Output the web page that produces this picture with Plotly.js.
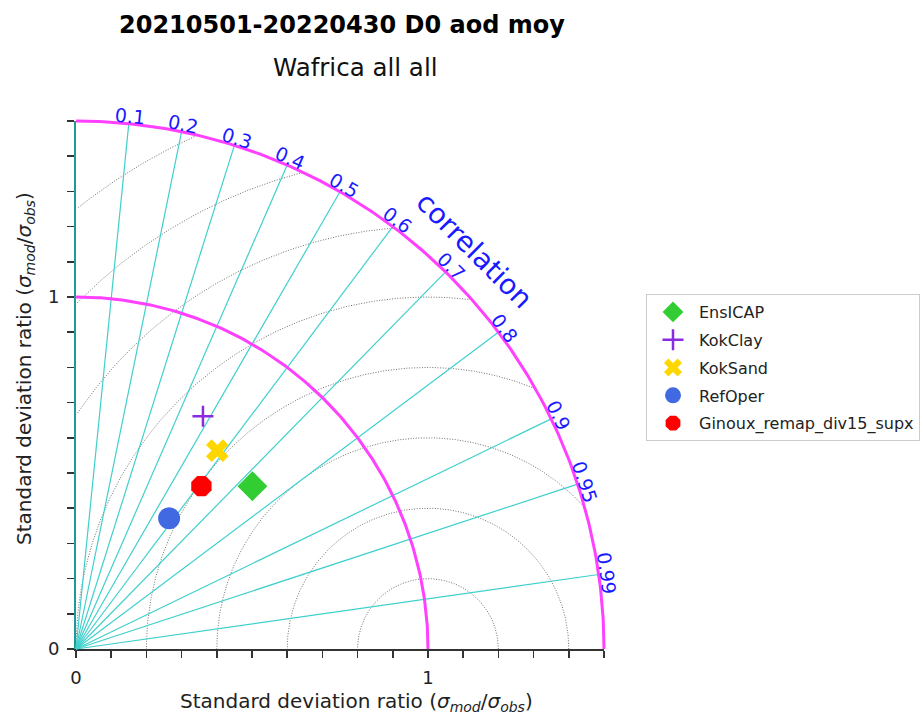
<!DOCTYPE html>
<html>
<head>
<meta charset="utf-8">
<script src="https://cdn.plot.ly/plotly-3.0.1.min.js"></script>
<style>
  html, body { margin: 0; padding: 0; background: #ffffff; }
  #chart { width: 923px; height: 715px; }
</style>
</head>
<body>
<div id="chart"></div>
<script>
// ---- Data ----
const models      = ['EnsICAP', 'KokClay', 'KokSand', 'RefOper', 'Ginoux_remap_div15_supx'];
const stdRatio    = [0.682, 0.753, 0.692, 0.456, 0.584];
const correlation = [0.735, 0.479, 0.580, 0.580, 0.610];
const markerSymbols = ['diamond', 'cross-thin', 'x', 'circle', 'octagon'];
const markerColors  = ['#32cd32', '#8a2be2', '#ffd700', '#4169e1', '#ff0000'];
const markerSizes   = [23, 15, 20, 22, 22];

const corrTicks  = [0.1, 0.2, 0.3, 0.4, 0.5, 0.6, 0.7, 0.8, 0.9, 0.95, 0.99];
const corrLabels = ['0.1', '0.2', '0.3', '0.4', '0.5', '0.6', '0.7', '0.8', '0.9', '0.95', '0.99'];
const rmsLevels  = [0.2, 0.4, 0.6, 0.8, 1.0, 1.2, 1.4, 1.6];
const stdArcs    = [1.0, 1.5];
const majorTickVals = [0, 1];
const majorTickText = ['0', '1'];
const minorTickVals = [0.1, 0.2, 0.3, 0.4, 0.5, 0.6, 0.7, 0.8, 0.9, 1.1, 1.2, 1.3, 1.4, 1.5];

const titleText    = '<b>20210501-20220430 D0 aod moy</b>';
const subtitleText = 'Wafrica all all';
const axisLabel    = 'Standard deviation ratio (<i>σ<sub>mod</sub></i>/<i>σ<sub>obs</sub></i>)';
const corrTitle    = 'correlation';

// ---- Geometry helpers ----
const RMAX = 1.5;
const FONT = 'DejaVu Sans, Liberation Sans, sans-serif';
const W = 923, H = 715;
const ORIGIN_X = 76, ORIGIN_Y = 649, PX_PER_UNIT = 352;
const PAD_LO = 0.05, PAD_HI = 1.6;

const xDom = [ORIGIN_X / W, (ORIGIN_X + RMAX * PX_PER_UNIT) / W];
const yDom = [(H - ORIGIN_Y) / H, (H - ORIGIN_Y + RMAX * PX_PER_UNIT) / H];
const x2Dom = [(ORIGIN_X - PAD_LO * PX_PER_UNIT) / W, (ORIGIN_X + PAD_HI * PX_PER_UNIT) / W];
const y2Dom = [(H - ORIGIN_Y - PAD_LO * PX_PER_UNIT) / H, (H - ORIGIN_Y + PAD_HI * PX_PER_UNIT) / H];

const traces = [];

traces.push({ x: [], y: [], xaxis: 'x', yaxis: 'y', type: 'scatter', mode: 'markers',
  showlegend: false, hoverinfo: 'skip' });

// RMS (centred) circles around the reference point (1, 0)
(function () {
  const xs = [], ys = [];
  rmsLevels.forEach(R => {
    let prevIn = false;
    for (let i = 0; i <= 720; i++) {
      const t = Math.PI * i / 720;
      const x = 1 + R * Math.cos(t), y = R * Math.sin(t);
      const inside = x >= 0 && (x * x + y * y) <= RMAX * RMAX + 1e-9;
      if (inside) { xs.push(x); ys.push(y); }
      else if (prevIn) { xs.push(null); ys.push(null); }
      prevIn = inside;
    }
    xs.push(null); ys.push(null);
  });
  traces.push({ x: xs, y: ys, xaxis: 'x2', yaxis: 'y2', type: 'scatter', mode: 'lines',
    line: { color: '#707070', width: 1, dash: '1px,1.6px' }, showlegend: false, hoverinfo: 'skip' });
})();

// correlation rays
(function () {
  const xs = [], ys = [];
  corrTicks.forEach(c => {
    const a = Math.acos(c);
    xs.push(0, RMAX * Math.cos(a), null);
    ys.push(0, RMAX * Math.sin(a), null);
  });
  traces.push({ x: xs, y: ys, xaxis: 'x2', yaxis: 'y2', type: 'scatter', mode: 'lines',
    line: { color: '#40d0cc', width: 1.2 }, showlegend: false, hoverinfo: 'skip' });
})();

// standard deviation arcs
(function () {
  const xs = [], ys = [];
  stdArcs.forEach(r => {
    for (let i = 0; i <= 180; i++) {
      const t = (Math.PI / 2) * i / 180;
      xs.push(r * Math.cos(t)); ys.push(r * Math.sin(t));
    }
    xs.push(null); ys.push(null);
  });
  traces.push({ x: xs, y: ys, xaxis: 'x2', yaxis: 'y2', type: 'scatter', mode: 'lines',
    line: { color: '#ff40ff', width: 3 }, showlegend: false, hoverinfo: 'skip' });
})();

// model points
models.forEach((name, i) => {
  const a = Math.acos(correlation[i]);
  const isThin = markerSymbols[i].indexOf('-thin') >= 0;
  traces.push({
    x: [stdRatio[i] * Math.cos(a)], y: [stdRatio[i] * Math.sin(a)],
    xaxis: 'x2', yaxis: 'y2', type: 'scatter', mode: 'markers', name: name,
    legendgroup: 'g' + i, cliponaxis: false,
    marker: {
      symbol: markerSymbols[i], size: markerSizes[i], color: markerColors[i],
      line: isThin ? { color: markerColors[i], width: 2.5 } : { width: 0 }
    }
  });
});

// correlation tick labels
const annotations = corrTicks.map((c, i) => {
  const a = Math.acos(c);
  const r = 1.522;
  return {
    xref: 'x2', yref: 'y2', x: r * Math.cos(a), y: r * Math.sin(a),
    text: corrLabels[i], showarrow: false, xanchor: 'center', yanchor: 'middle',
    textangle: 90 - a * 180 / Math.PI,
    font: { family: FONT, size: 19, color: '#1a1aff' }
  };
});
annotations.push({
  xref: 'x2', yref: 'y2', x: 1.6 * Math.cos(Math.PI / 4), y: 1.6 * Math.sin(Math.PI / 4),
  text: corrTitle, showarrow: false, xanchor: 'center', yanchor: 'middle', textangle: 45,
  font: { family: FONT, size: 28, color: '#1a1aff' }
});
annotations.push({
  xref: 'paper', yref: 'paper', x: 341.5 / W, y: 1 - 25 / H, text: titleText, showarrow: false,
  xanchor: 'center', yanchor: 'middle', font: { family: FONT, size: 24, color: '#000' }
});
annotations.push({
  xref: 'paper', yref: 'paper', x: 355.5 / W, y: 1 - 68 / H, text: subtitleText, showarrow: false,
  xanchor: 'center', yanchor: 'middle', font: { family: FONT, size: 24.5, color: '#111' }
});
annotations.push({
  xref: 'paper', yref: 'paper', x: 356.5 / W, y: 1 - 702 / H, text: axisLabel, showarrow: false,
  xanchor: 'center', yanchor: 'middle', font: { family: FONT, size: 20, color: '#222' }
});
annotations.push({
  xref: 'paper', yref: 'paper', x: 25 / W, y: 1 - 369 / H, text: axisLabel, showarrow: false,
  xanchor: 'center', yanchor: 'middle', textangle: -90, font: { family: FONT, size: 20, color: '#222' }
});

const axisCommon = {
  range: [0, RMAX], showgrid: false, zeroline: false, showline: true,
  ticks: 'outside', ticklen: 7, tickwidth: 1.5, tickcolor: '#333',
  tickmode: 'array', tickvals: majorTickVals, ticktext: majorTickText,
  ticklabelstandoff: 4,
  minor: { tickmode: 'array', tickvals: minorTickVals, ticks: 'outside', ticklen: 7, tickwidth: 1.5, tickcolor: '#333', showgrid: false },
  tickfont: { family: FONT, size: 18, color: '#222' }, fixedrange: true
};

const layout = {
  width: W, height: H,
  margin: { l: 0, r: 0, t: 0, b: 0, pad: 0 },
  paper_bgcolor: '#ffffff', plot_bgcolor: 'rgba(0,0,0,0)',
  font: { family: FONT },
  hovermode: false,
  xaxis: Object.assign({}, axisCommon, { domain: xDom, anchor: 'y', linecolor: '#333', linewidth: 2 }),
  yaxis: Object.assign({}, axisCommon, { domain: yDom, anchor: 'x', linecolor: '#1f9a9a', linewidth: 2 }),
  xaxis2: { domain: x2Dom, range: [-PAD_LO, PAD_HI], anchor: 'y2', visible: false, fixedrange: true },
  yaxis2: { domain: y2Dom, range: [-PAD_LO, PAD_HI], anchor: 'x2', visible: false, fixedrange: true },
  showlegend: true,
  legend: {
    x: 646 / W, y: 1 - 294 / H, xanchor: 'left', yanchor: 'top',
    bgcolor: '#ffffff', bordercolor: '#cccccc', borderwidth: 1,
    font: { family: FONT, size: 16, color: '#222' },
    tracegroupgap: 4, itemsizing: 'trace', itemwidth: 42
  },
  annotations: annotations
};

Plotly.newPlot('chart', traces, layout, { displayModeBar: false, staticPlot: true });
</script>
</body>
</html>
